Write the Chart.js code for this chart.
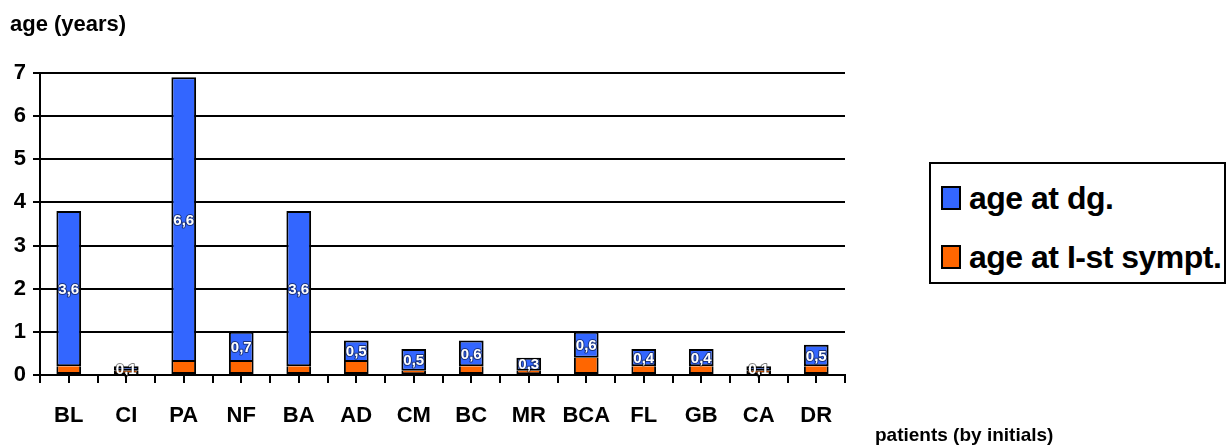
<!DOCTYPE html>
<html>
<head>
<meta charset="utf-8">
<script src="https://cdn.jsdelivr.net/npm/chart.js@4/dist/chart.umd.min.js"></script>
<style>
  html, body { margin: 0; padding: 0; background: #fff; }
  #wrap { position: relative; width: 1228px; height: 448px; font-family: "Liberation Sans", Arial, sans-serif; }
  #chart { position: absolute; left: 0; top: 0; }
  .title { position: absolute; font-weight: bold; color: #000; white-space: nowrap; }
  #legend { position: absolute; left: 929px; top: 162px; width: 293px; height: 118px; border: 2px solid #000; background: #fff; }
  .item { position: absolute; left: 10px; font-weight: bold; font-size: 32px; letter-spacing: -0.5px; white-space: nowrap; line-height: 32px; }
  .sw { display: inline-block; width: 16px; height: 20px; border: 2px solid #000; vertical-align: -1px; margin-right: 8px; }
</style>
</head>
<body>
<div id="wrap">
  <canvas id="chart" width="1228" height="448"></canvas>
  <div class="title" style="left:10px; top:11px; font-size:22px;">age (years)</div>
  <div class="title" style="left:875px; top:424px; font-size:19px;">patients (by initials)</div>
  <div id="legend">
    <div class="item" style="top:18px;"><span class="sw" id="sw0"></span><span id="lg0"></span></div>
    <div class="item" style="top:77px;"><span class="sw" id="sw1"></span><span id="lg1"></span></div>
  </div>
</div>
<script>
// Patients and their ages (years)
const patients = ['BL', 'CI', 'PA', 'NF', 'BA', 'AD', 'CM', 'BC', 'MR', 'BCA', 'FL', 'GB', 'CA', 'DR'];
const ageFirstSymptom = [0.2, 0.1, 0.3, 0.3, 0.2, 0.3, 0.1, 0.2, 0.1, 0.4, 0.2, 0.2, 0.1, 0.2];
const ageAtDiagnosis = [3.6, 0.1, 6.6, 0.7, 3.6, 0.5, 0.5, 0.6, 0.3, 0.6, 0.4, 0.4, 0.1, 0.5];
const yTicks = [0, 1, 2, 3, 4, 5, 6, 7];
const seriesNames = ['age at dg.', 'age at I-st sympt.'];
const BLUE = '#3366FF';
const ORANGE = '#FF6600';

document.getElementById('lg0').textContent = seriesNames[0];
document.getElementById('lg1').textContent = seriesNames[1];
document.getElementById('sw0').style.background = BLUE;
document.getElementById('sw1').style.background = ORANGE;

const fmt = v => String(v).replace('.', ',');

// Tick marks under the middle of every category
const centerTicks = {
  id: 'centerTicks',
  afterDraw(chart) {
    const x = chart.scales.x, ctx = chart.ctx, b = chart.chartArea.bottom;
    ctx.save();
    ctx.strokeStyle = '#000';
    ctx.lineWidth = 2;
    patients.forEach((p, i) => {
      const px = Math.round(x.getPixelForValue(i));
      ctx.beginPath();
      ctx.moveTo(px, b);
      ctx.lineTo(px, b + 8);
      ctx.stroke();
    });
    ctx.restore();
  }
};

// Value labels inside the blue segments
const valueLabels = {
  id: 'valueLabels',
  afterDatasetsDraw(chart) {
    const meta = chart.getDatasetMeta(1), ctx = chart.ctx;
    ctx.save();
    ctx.font = 'bold 15px "Liberation Sans", Arial, sans-serif';
    ctx.textAlign = 'center';
    ctx.textBaseline = 'middle';
    ctx.lineJoin = 'round';
    meta.data.forEach((bar, i) => {
      const y = (bar.y + bar.base) / 2 + 1;
      const t = fmt(ageAtDiagnosis[i]);
      ctx.strokeStyle = 'rgba(0,0,0,0.5)';
      ctx.lineWidth = 2;
      ctx.strokeText(t, bar.x, y);
      ctx.fillStyle = '#fff';
      ctx.fillText(t, bar.x, y);
    });
    ctx.restore();
  }
};

new Chart(document.getElementById('chart'), {
  type: 'bar',
  data: {
    labels: patients,
    datasets: [
      { label: seriesNames[1], data: ageFirstSymptom, backgroundColor: ORANGE, borderColor: '#000',
        borderWidth: { top: 0, left: 2, right: 2, bottom: 2 }, borderSkipped: false },
      { label: seriesNames[0], data: ageAtDiagnosis, backgroundColor: BLUE, borderColor: '#000',
        borderWidth: 2, borderSkipped: false }
    ]
  },
  options: {
    responsive: false,
    animation: false,
    devicePixelRatio: 1,
    layout: { padding: { left: 0, top: 73, right: 383, bottom: 0 } },
    datasets: { bar: { barPercentage: 0.43, categoryPercentage: 1 } },
    plugins: { legend: { display: false }, tooltip: { enabled: false } },
    scales: {
      x: {
        stacked: true,
        afterFit: s => { s.height = 73; },
        border: { color: '#000', width: 2 },
        grid: { drawOnChartArea: false, color: '#000', lineWidth: 2, tickLength: 8 },
        ticks: { color: '#000', padding: 20, font: { family: '"Liberation Sans", Arial, sans-serif', weight: 'bold', size: 22 } }
      },
      y: {
        stacked: true,
        min: 0, max: 7,
        afterFit: s => { s.width = 40; },
        afterBuildTicks: s => { s.ticks = yTicks.map(v => ({ value: v })); },
        border: { color: '#000', width: 2 },
        grid: { color: '#000', lineWidth: 2, tickLength: 7 },
        ticks: { color: '#000', padding: 7, font: { family: '"Liberation Sans", Arial, sans-serif', weight: 'bold', size: 22 } }
      }
    }
  },
  plugins: [centerTicks, valueLabels]
});
</script>
</body>
</html>
